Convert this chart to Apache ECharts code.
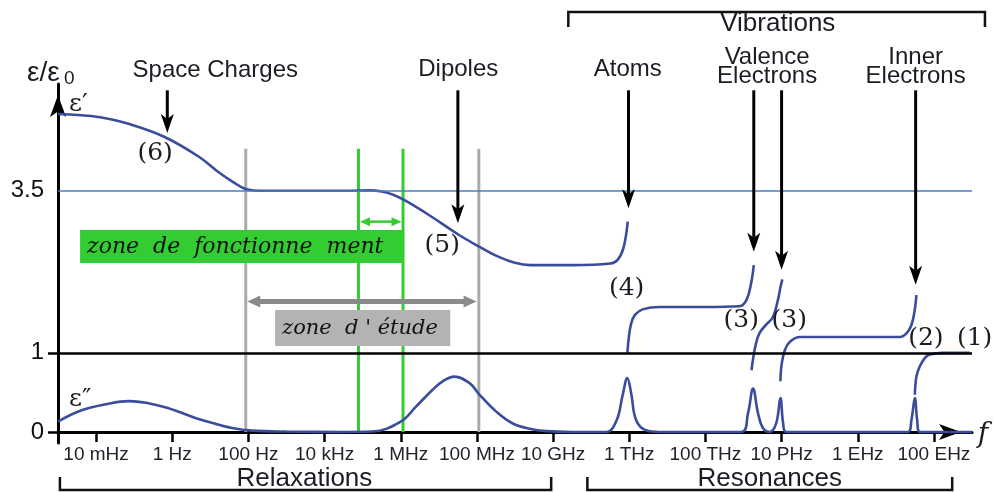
<!DOCTYPE html>
<html><head><meta charset="utf-8">
<script src="https://cdn.jsdelivr.net/npm/echarts@6/dist/echarts.min.js"></script>
<style>html,body{margin:0;padding:0;background:#fff}#c{width:994px;height:492px}</style>
</head><body><div id="c"></div>
<script>
// x = log10(frequency / Hz), y = schematic level of eps/eps0
const freqTicks = [-2, 0, 2, 4, 6, 8, 10, 12, 14, 16, 18, 20];
const freqLabels = ['10 mHz','1 Hz','100 Hz','10 kHz','1 MHz','100 MHz','10 GHz','1 THz','100 THz','10 PHz','1 EHz','100 EHz'];
const levelTicks = [0, 1, 3.05];
const levelLabels = ['0', '1', '3.5'];

// eps' (real part) pieces
const epsReal1 = [[-3.0,4.02],[-1.9,3.98],[-1.1,3.89],[-0.2,3.73],[0.7,3.48],[1.2,3.29],[1.6,3.16],[1.95,3.07],[2.4,3.05],[3.5,3.05],[4.6,3.05],[5.2,3.055],[5.5,3.04],[5.8,3.0],[6.1,2.93],[6.75,2.74],[7.5,2.50],[8.07,2.34],[8.5,2.23],[9.0,2.14],[9.4,2.11],[10.5,2.11],[11.5,2.13],[11.7,2.18],[11.85,2.33],[11.96,2.66]];
const epsReal2 = [[11.95,1.0],[11.99,1.2],[12.05,1.37],[12.15,1.48],[12.35,1.55],[12.8,1.58],[14.0,1.58],[14.9,1.59],[15.08,1.67],[15.2,1.88],[15.27,2.11]];
const epsReal3 = [[15.21,0.78],[15.26,0.95],[15.32,1.1],[15.42,1.25],[15.6,1.36],[15.77,1.45],[15.9,1.66],[15.97,1.83],[16.02,1.93]];
const epsReal4 = [[15.97,0.64],[16.0,0.85],[16.09,1.04],[16.22,1.14],[16.48,1.2],[17.5,1.2],[19.1,1.2],[19.32,1.27],[19.45,1.42],[19.54,1.73]];
const epsReal5 = [[19.5,0.47],[19.54,0.7],[19.63,0.83],[19.77,0.94],[19.89,0.98],[20.23,1.0],[20.94,1.0]];
// eps'' (loss) curve
const epsImag = [[-3.0,0.13],[-2.4,0.27],[-1.75,0.35],[-1.13,0.39],[-0.6,0.36],[-0.16,0.31],[0.26,0.24],[0.71,0.16],[1.15,0.10],[1.57,0.05],[2.1,0.017],[3,0.005],[4.5,0.0],[5.25,0.005],[6.0,0.13],[6.4,0.32],[6.83,0.53],[7.1,0.64],[7.41,0.70],[7.8,0.62],[8.07,0.47],[8.5,0.26],[8.93,0.11],[9.38,0.04],[9.83,0.01],[10.5,0],[11.4,0],[11.67,0.15],[11.82,0.45],[11.95,0.68],[12.05,0.49],[12.18,0.15],[12.44,0.02],[12.8,0],[14.94,0],[15.12,0.24],[15.25,0.55],[15.38,0.24],[15.51,0.05],[15.69,0],[15.86,0.11],[15.97,0.43],[16.04,0.11],[16.12,0],[19.32,0],[19.41,0.15],[19.5,0.43],[19.56,0.15],[19.63,0],[21,0]];

// annotations (in data coordinates)
const guideLines = [[1.93,0,3.58],[8.05,0,3.58],[4.89,0,3.58],[6.06,0,3.58]];
const guideColors = ['#aaaaaa','#aaaaaa','#33cc33','#33cc33'];
const zoneBoxes = [[-2.42,6.07,2.554,2.137],[2.70,7.30,1.543,1.087]];
const zoneTexts = ['zone  de  fonctionne  ment', "zone  d ' étude"];
const zoneFills = ['#33cc33', '#b3b3b3'];
const zoneFontSizes = [22, 21];
const zoneSpans = [[4.93,6.02,2.659],[1.97,7.99,1.648]];
const spanStyles = [{c:'#33cc33', w:2.5, L:10, W:4.5}, {c:'#8a8a8a', w:5, L:13, W:6}];
const mechanismArrows = [[-0.13,4.32,3.78],[7.5,4.32,2.64],[11.98,4.32,2.83],[15.27,4.32,2.28],[16.0,4.32,2.05],[19.52,4.32,1.86]];
const mechanismNames = ['Space Charges','Dipoles','Atoms','Valence\nElectrons','Inner\nElectrons'];
const mechanismNamePos = [[1.13,4.57],[7.51,4.58],[11.96,4.58],[15.62,4.62],[19.52,4.62]];
const regionBrackets = [[10.4,21.34,5.31,5.12],[-2.95,9.95,-0.733,-0.569],[10.9,20.48,-0.733,-0.569]];
const regionNames = ['Vibrations','Relaxations','Resonances'];
const regionNamePos = [[15.9,5.16],[3.47,-0.594],[15.69,-0.594]];
const peakNumbers = ['(6)','(5)','(4)','(3)','(3)','(2)','(1)'];
const peakNumberPos = [[-0.45,3.515],[7.09,2.352],[11.93,1.808],[14.94,1.403],[16.2,1.403],[19.79,1.176],[21.07,1.176]];
const symbolTexts = ['ε′','ε″'];
const symbolPos = [[-2.71,4.147],[-2.71,0.405]];
const fLabelPos = [[21.15,-0.038]];
const axisTitlePos = [[-3.813,4.539]];

const SANS = '"Liberation Sans", Arial, Helvetica, sans-serif';
const SERIF = '"DejaVu Serif", "Liberation Serif", serif';
const CURVE = '#3a4d9c';
const INK = '#1c1c24';

function curve(name, data) {
  return {name, type:'line', data, smooth:0.4, symbol:'none', silent:true,
    lineStyle:{color:CURVE, width:2.6}, z:4};
}
function textSeries(name, pos, texts, st) {
  return {type:'custom', name, data:pos, z:7, silent:true, clip:false,
    renderItem:(p, api) => {
      const c = api.coord([api.value(0), api.value(1)]);
      return {type:'text', x:c[0], y:c[1], style:Object.assign({text:texts[p.dataIndex], fill:INK, align:'center', verticalAlign:'middle'}, st)};
    }};
}

const chart = echarts.init(document.getElementById('c'), null, {renderer:'canvas'});
chart.setOption({
  animation:false,
  backgroundColor:'#fff',
  grid:{left:58, right:22, top:84, bottom:49, containLabel:false},
  xAxis:{type:'value', min:-3, max:21, splitLine:{show:false},
    axisLine:{onZero:true, symbol:['none','arrow'], symbolSize:[12,22], symbolOffset:[0,-11], lineStyle:{color:'#000', width:3}},
    axisTick:{customValues:freqTicks, length:10, lineStyle:{color:'#000', width:2.5}},
    axisLabel:{customValues:freqTicks, formatter:v => freqLabels[freqTicks.indexOf(v)], fontSize:19, fontFamily:SANS, color:'#22222c', margin:2}
  },
  yAxis:{type:'value', min:-0.14, max:4.4, splitLine:{show:false},
    axisLine:{onZero:false, symbol:['none','arrow'], symbolSize:[12,22], symbolOffset:[0,-11], lineStyle:{color:'#000', width:3}},
    axisTick:{customValues:[0,1], length:10, lineStyle:{color:'#000', width:2.5}},
    axisLabel:{customValues:levelTicks, formatter:v => levelLabels[levelTicks.indexOf(v)], fontSize:24, fontFamily:SANS, color:'#111', margin:14}
  },
  series:[
    {type:'custom', name:'guides', data:guideLines, z:1, silent:true, clip:false,
      renderItem:(p, api) => {
        const a = api.coord([api.value(0), api.value(1)]), b = api.coord([api.value(0), api.value(2)]);
        return {type:'line', shape:{x1:a[0], y1:a[1], x2:b[0], y2:b[1]}, style:{stroke:guideColors[p.dataIndex], lineWidth:3}};
      }},
    {type:'line', name:'refs', data:[], silent:true, z:2,
      markLine:{silent:true, symbol:'none', label:{show:false}, animation:false,
        data:[{yAxis:3.05, lineStyle:{color:'#4a7ebb', width:1.6, type:'solid'}},
              {yAxis:1, lineStyle:{color:'#000', width:2.5, type:'solid'}}]}},
    curve('eps1', epsReal1), curve('eps2', epsReal2), curve('eps3', epsReal3), curve('eps4', epsReal4), curve('eps5', epsReal5),
    {name:'epsImag', type:'line', data:epsImag, smooth:0.4, symbol:'none', silent:true, lineStyle:{color:CURVE, width:2.6}, z:4},
    {type:'custom', name:'zones', data:zoneBoxes, z:5, silent:true, clip:false,
      renderItem:(p, api) => {
        const i = p.dataIndex;
        const a = api.coord([api.value(0), api.value(2)]), b = api.coord([api.value(1), api.value(3)]);
        return {type:'group', children:[
          {type:'rect', shape:{x:a[0], y:a[1], width:b[0]-a[0], height:b[1]-a[1]}, style:{fill:zoneFills[i]}},
          {type:'text', x:a[0]+7, y:(a[1]+b[1])/2+1, style:{text:zoneTexts[i], fill:'#111', fontFamily:SERIF, fontStyle:'italic', fontSize:zoneFontSizes[i], align:'left', verticalAlign:'middle'}}
        ]};
      }},
    {type:'custom', name:'spans', data:zoneSpans, z:6, silent:true, clip:false,
      renderItem:(p, api) => {
        const s = spanStyles[p.dataIndex];
        const a = api.coord([api.value(0), api.value(2)]), b = api.coord([api.value(1), api.value(2)]);
        const y = a[1];
        return {type:'group', children:[
          {type:'line', shape:{x1:a[0]+s.L-2, y1:y, x2:b[0]-s.L+2, y2:y}, style:{stroke:s.c, lineWidth:s.w}},
          {type:'polygon', shape:{points:[[a[0],y],[a[0]+s.L,y-s.W],[a[0]+s.L,y+s.W]]}, style:{fill:s.c}},
          {type:'polygon', shape:{points:[[b[0],y],[b[0]-s.L,y-s.W],[b[0]-s.L,y+s.W]]}, style:{fill:s.c}}
        ]};
      }},
    {type:'custom', name:'mechanismArrows', data:mechanismArrows, z:6, silent:true, clip:false,
      renderItem:(p, api) => {
        const a = api.coord([api.value(0), api.value(1)]), t = api.coord([api.value(0), api.value(2)]);
        const L = 19, W = 6.5;
        return {type:'group', children:[
          {type:'line', shape:{x1:a[0], y1:a[1], x2:t[0], y2:t[1]-L+5}, style:{stroke:'#000', lineWidth:3}},
          {type:'polygon', shape:{points:[[t[0],t[1]],[t[0]-W,t[1]-L],[t[0],t[1]-L+5],[t[0]+W,t[1]-L]]}, style:{fill:'#000'}}
        ]};
      }},
    {type:'custom', name:'brackets', data:regionBrackets, z:6, silent:true, clip:false,
      renderItem:(p, api) => {
        const a = api.coord([api.value(0), api.value(2)]), b = api.coord([api.value(1), api.value(2)]);
        const e = api.coord([api.value(0), api.value(3)]);
        return {type:'polyline', shape:{points:[[a[0],e[1]],[a[0],a[1]],[b[0],b[1]],[b[0],e[1]]]}, style:{stroke:'#111', lineWidth:2.5, fill:null}};
      }},
    textSeries('mechanismNames', mechanismNamePos, mechanismNames, {fontFamily:SANS, fontSize:24, lineHeight:19}),
    textSeries('regionNames', regionNamePos, regionNames, {fontFamily:SANS, fontSize:26}),
    textSeries('peakNumbers', peakNumberPos, peakNumbers, {fontFamily:SERIF, fontSize:25}),
    textSeries('symbols', symbolPos, symbolTexts, {fontFamily:SERIF, fontSize:25, align:'left'}),
    textSeries('fLabel', fLabelPos, ['f'], {fontFamily:SERIF, fontSize:28, fontStyle:'italic', align:'left'}),
    {type:'custom', name:'axisTitle', data:axisTitlePos, z:7, silent:true, clip:false,
      renderItem:(p, api) => {
        const c = api.coord([api.value(0), api.value(1)]);
        return {type:'group', children:[
          {type:'text', x:c[0], y:c[1], style:{text:'ε/ε', fill:INK, fontFamily:SANS, fontSize:28, align:'left', verticalAlign:'middle'}},
          {type:'text', x:c[0]+37, y:c[1]+6, style:{text:'0', fill:INK, fontFamily:SANS, fontSize:19, align:'left', verticalAlign:'middle'}}
        ]};
      }}
  ]
});
</script>
</body></html>
